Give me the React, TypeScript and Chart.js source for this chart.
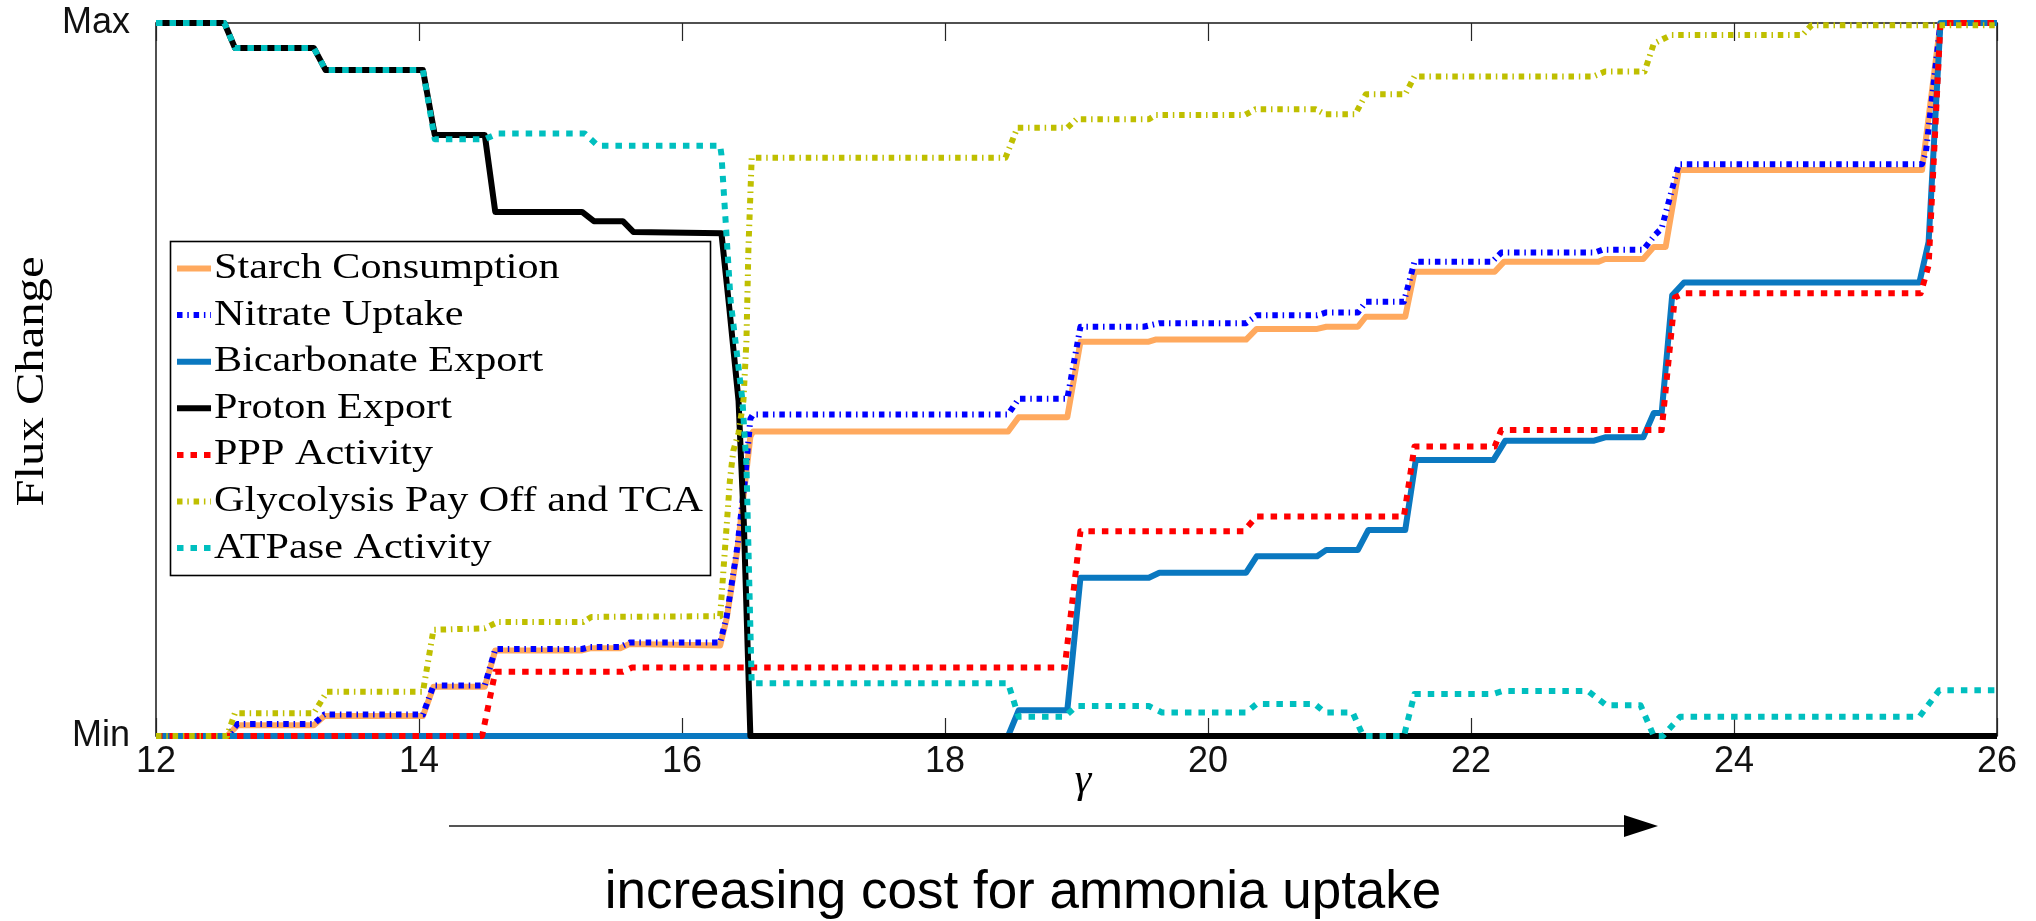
import { useEffect, useRef } from 'react';
import { Chart, registerables } from 'chart.js';

Chart.register(...registerables);

// ---- axis ticks ----
const xTicks = [12, 14, 16, 18, 20, 22, 24, 26];
const yTickLabels: Record<number, string> = { 0: 'Min', 1: 'Max' };

// ---- series (gamma breakpoints and normalised flux, 0 = Min, 1 = Max) ----
const starchGamma = [12, 12.54, 12.62, 13.2, 13.28, 14.03, 14.11, 14.5, 14.58, 15.24, 15.3, 15.53, 15.6, 16.29, 16.34, 16.42, 16.48, 16.52, 16.54, 18.48, 18.56, 18.93, 19.03, 19.55, 19.6, 20.29, 20.37, 20.83, 20.9, 21.14, 21.2, 21.5, 21.57, 22.18, 22.25, 22.97, 23.02, 23.31, 23.39, 23.48, 23.58, 25.43, 25.57, 26];
const starchFlux = [0, 0, 0.015, 0.015, 0.028, 0.028, 0.069, 0.069, 0.12, 0.12, 0.123, 0.123, 0.129, 0.127, 0.165, 0.26, 0.355, 0.42, 0.427, 0.427, 0.447, 0.447, 0.553, 0.553, 0.556, 0.556, 0.571, 0.571, 0.574, 0.574, 0.588, 0.588, 0.651, 0.651, 0.665, 0.665, 0.669, 0.669, 0.686, 0.686, 0.794, 0.794, 1, 1];

const nitrateGamma = [12, 12.54, 12.62, 13.2, 13.28, 14.03, 14.11, 14.5, 14.58, 15.24, 15.3, 15.53, 15.6, 16.29, 16.34, 16.42, 16.48, 16.52, 16.54, 18.48, 18.56, 18.93, 19.03, 19.51, 19.63, 20.29, 20.37, 20.83, 20.9, 21.14, 21.2, 21.49, 21.57, 22.16, 22.23, 22.94, 23.0, 23.31, 23.4, 23.45, 23.58, 25.43, 25.46, 25.57, 26];
const nitrateFlux = [0, 0, 0.017, 0.017, 0.03, 0.03, 0.071, 0.071, 0.122, 0.122, 0.125, 0.125, 0.131, 0.131, 0.168, 0.264, 0.361, 0.445, 0.451, 0.451, 0.473, 0.473, 0.574, 0.574, 0.579, 0.579, 0.59, 0.59, 0.594, 0.594, 0.609, 0.609, 0.665, 0.665, 0.678, 0.678, 0.682, 0.682, 0.703, 0.712, 0.802, 0.802, 0.82, 1, 1];

const bicarbonateGamma = [12, 18.48, 18.56, 18.93, 19.03, 19.55, 19.63, 20.29, 20.37, 20.83, 20.9, 21.14, 21.22, 21.5, 21.58, 22.17, 22.26, 22.93, 23.02, 23.31, 23.39, 23.45, 23.53, 23.62, 25.41, 25.48, 25.57, 26];
const bicarbonateFlux = [0, 0, 0.036, 0.036, 0.222, 0.222, 0.229, 0.229, 0.252, 0.252, 0.261, 0.261, 0.289, 0.289, 0.387, 0.387, 0.414, 0.414, 0.419, 0.419, 0.453, 0.453, 0.618, 0.636, 0.636, 0.693, 1, 1];

const protonGamma = [12, 12.52, 12.6, 13.2, 13.29, 14.03, 14.12, 14.5, 14.58, 15.24, 15.33, 15.55, 15.63, 16.3, 16.36, 16.43, 16.47, 16.52, 26];
const protonFlux = [1, 1, 0.965, 0.965, 0.934, 0.934, 0.843, 0.843, 0.735, 0.735, 0.722, 0.722, 0.707, 0.705, 0.6, 0.47, 0.3, 0, 0];

const pppGamma = [12, 14.48, 14.58, 15.55, 15.62, 18.91, 19.03, 20.27, 20.37, 21.49, 21.57, 22.18, 22.23, 23.45, 23.55, 23.62, 25.42, 25.48, 25.57, 26];
const pppFlux = [0, 0, 0.09, 0.09, 0.096, 0.096, 0.287, 0.287, 0.308, 0.308, 0.406, 0.406, 0.429, 0.429, 0.615, 0.621, 0.621, 0.66, 1, 1];

const glycolysisGamma = [12, 12.54, 12.6, 13.2, 13.3, 14.03, 14.11, 14.5, 14.6, 15.25, 15.31, 16.29, 16.365, 16.39, 16.43, 16.467, 16.49, 16.505, 16.53, 18.46, 18.55, 18.93, 19.0, 19.55, 19.6, 20.28, 20.36, 20.82, 20.89, 21.12, 21.2, 21.5, 21.57, 22.93, 23.02, 23.32, 23.39, 23.52, 24.52, 24.59, 26];
const glycolysisFlux = [0, 0, 0.032, 0.032, 0.062, 0.062, 0.149, 0.151, 0.16, 0.16, 0.167, 0.168, 0.36, 0.4, 0.425, 0.47, 0.554, 0.683, 0.811, 0.811, 0.853, 0.853, 0.865, 0.865, 0.871, 0.871, 0.879, 0.879, 0.872, 0.872, 0.9, 0.9, 0.925, 0.925, 0.932, 0.932, 0.971, 0.983, 0.983, 0.997, 0.997];

const atpaseGamma = [12, 12.52, 12.6, 13.2, 13.29, 14.03, 14.12, 14.5, 14.6, 15.26, 15.36, 16.29, 16.3, 16.37, 16.46, 16.49, 16.53, 18.48, 18.56, 18.91, 19.0, 19.55, 19.65, 20.29, 20.37, 20.81, 20.89, 21.1, 21.18, 21.49, 21.57, 22.17, 22.24, 22.89, 23.03, 23.29, 23.39, 23.46, 23.59, 25.41, 25.56, 26];
const atpaseFlux = [1, 1, 0.965, 0.965, 0.934, 0.934, 0.837, 0.837, 0.845, 0.845, 0.828, 0.828, 0.815, 0.61, 0.47, 0.38, 0.074, 0.074, 0.027, 0.027, 0.042, 0.042, 0.033, 0.033, 0.045, 0.045, 0.033, 0.033, 0, 0, 0.059, 0.059, 0.063, 0.063, 0.043, 0.043, 0, 0, 0.027, 0.027, 0.064, 0.064];

const seriesNames = [
  'Starch Consumption',
  'Nitrate Uptake',
  'Bicarbonate Export',
  'Proton Export',
  'PPP Activity',
  'Glycolysis Pay Off and TCA',
  'ATPase Activity',
];

const DOTTED = [6.5, 7];
const DASH_DOT = [5.5, 4.8, 1.5, 4.8];

const seriesStyles = [
  { color: '#ffa95e', dash: [] as number[] },
  { color: '#0000ff', dash: DASH_DOT },
  { color: '#0a78c0', dash: [] as number[] },
  { color: '#000000', dash: [] as number[] },
  { color: '#ff0000', dash: DOTTED },
  { color: '#bfbf00', dash: DASH_DOT },
  { color: '#00bfbf', dash: DOTTED },
];

const seriesData = [
  [starchGamma, starchFlux],
  [nitrateGamma, nitrateFlux],
  [bicarbonateGamma, bicarbonateFlux],
  [protonGamma, protonFlux],
  [pppGamma, pppFlux],
  [glycolysisGamma, glycolysisFlux],
  [atpaseGamma, atpaseFlux],
];

const LINE_W = 6;

const toPoints = (g: number[], f: number[]) => g.map((x, i) => ({ x, y: f[i] }));

// Box, inward ticks, legend and annotation text
const decorations = {
  id: 'decorations',
  beforeDatasetsDraw(chart: any) {
    const { ctx, chartArea: a, scales } = chart;
    ctx.save();
    ctx.strokeStyle = '#262626';
    ctx.lineWidth = 1.2;
    ctx.beginPath();
    xTicks.forEach((t) => {
      const x = Math.round(scales.x.getPixelForValue(t)) + 0.5;
      ctx.moveTo(x, a.bottom);
      ctx.lineTo(x, a.bottom - 18);
      ctx.moveTo(x, a.top);
      ctx.lineTo(x, a.top + 18);
    });
    ctx.stroke();
    ctx.lineWidth = 1.6;
    ctx.strokeRect(a.left, a.top, a.right - a.left, a.bottom - a.top);
    ctx.restore();
  },
  afterDatasetsDraw(chart: any) {
    const { ctx } = chart;
    ctx.save();
    // legend
    const bx = 170, by = 241, bw = 540, bh = 334;
    ctx.fillStyle = '#ffffff';
    ctx.fillRect(bx, by, bw, bh);
    ctx.strokeStyle = '#000000';
    ctx.lineWidth = 1.6;
    ctx.strokeRect(bx + 0.5, by + 0.5, bw, bh);
    ctx.font = '36px "Liberation Serif"';
    const stretch = 489 / ctx.measureText(seriesNames[5]).width;
    seriesNames.forEach((name, i) => {
      const base = 278 + i * 46.6;
      const st = seriesStyles[i];
      ctx.save();
      ctx.strokeStyle = st.color;
      ctx.lineWidth = LINE_W;
      ctx.lineCap = 'butt';
      ctx.setLineDash(st.dash);
      ctx.beginPath();
      ctx.moveTo(177, base - 9.5);
      ctx.lineTo(211, base - 9.5);
      ctx.stroke();
      ctx.restore();
      ctx.save();
      ctx.fillStyle = '#000000';
      ctx.textAlign = 'left';
      ctx.textBaseline = 'alphabetic';
      ctx.translate(214, base);
      ctx.scale(stretch, 1);
      ctx.fillText(name, 0, 0);
      ctx.restore();
    });
    ctx.restore();
  },
  afterDraw(chart: any) {
    const { ctx, chartArea: a } = chart;
    ctx.save();
    // y-axis title
    ctx.font = '41px "Liberation Serif"';
    const title = 'Flux Change';
    const tStretch = 250 / ctx.measureText(title).width;
    ctx.fillStyle = '#000000';
    ctx.translate(42.5, (a.top + a.bottom) / 2 + 2);
    ctx.rotate(-Math.PI / 2);
    ctx.scale(tStretch, 1);
    ctx.textAlign = 'center';
    ctx.textBaseline = 'alphabetic';
    ctx.fillText(title, 0, 0);
    ctx.restore();

    ctx.save();
    // x-axis symbol
    ctx.fillStyle = '#000000';
    ctx.font = 'italic 42px "Liberation Serif"';
    ctx.textAlign = 'center';
    ctx.textBaseline = 'alphabetic';
    ctx.fillText('γ', 1083, 792);

    // arrow
    ctx.strokeStyle = '#555555';
    ctx.lineWidth = 2;
    ctx.beginPath();
    ctx.moveTo(449, 826);
    ctx.lineTo(1628, 826);
    ctx.stroke();
    ctx.fillStyle = '#000000';
    ctx.beginPath();
    ctx.moveTo(1624, 815);
    ctx.lineTo(1658, 826);
    ctx.lineTo(1624, 837);
    ctx.closePath();
    ctx.fill();

    // caption under the arrow
    ctx.font = '53px "Liberation Sans"';
    ctx.fillText('increasing cost for ammonia uptake', 1023, 908);
    ctx.restore();
  },
};

export default function App() {
  const canvasRef = useRef<HTMLCanvasElement | null>(null);

  useEffect(() => {
    const canvas = canvasRef.current;
    if (!canvas) return;
    const datasets = seriesData.map(([g, f], i) => ({
      label: seriesNames[i],
      data: toPoints(g, f),
      borderColor: seriesStyles[i].color,
      backgroundColor: seriesStyles[i].color,
      borderWidth: LINE_W,
      borderDash: seriesStyles[i].dash,
      borderCapStyle: 'butt' as const,
      borderJoinStyle: 'round' as const,
      pointRadius: 0,
      tension: 0,
      fill: false,
      clip: false as const,
      order: seriesNames.length - 1 - i,
    }));

    const chart = new Chart(canvas, {
      type: 'line',
      data: { datasets },
      options: {
        animation: false,
        responsive: false,
        maintainAspectRatio: false,
        devicePixelRatio: 1,
        layout: { padding: { left: 0, right: 39, top: 23, bottom: 0 } },
        plugins: { legend: { display: false }, tooltip: { enabled: false } },
        scales: {
          x: {
            type: 'linear',
            min: 12,
            max: 26,
            grid: { display: false, drawTicks: false },
            border: { display: false },
            afterBuildTicks: (scale: any) => {
              scale.ticks = xTicks.map((v) => ({ value: v }));
            },
            afterFit: (scale: any) => {
              scale.height = 185;
              scale.paddingLeft = 0;
              scale.paddingRight = 0;
              scale.paddingTop = 0;
              scale.paddingBottom = 0;
            },
            ticks: {
              padding: 4,
              color: '#111111',
              font: { family: '"Liberation Sans", Arial, sans-serif', size: 36 },
              maxRotation: 0,
              autoSkip: false,
              callback: (v: any) => String(v),
            },
          },
          y: {
            type: 'linear',
            min: 0,
            max: 1,
            grid: { display: false, drawTicks: false },
            border: { display: false },
            afterBuildTicks: (scale: any) => {
              scale.ticks = [{ value: 0 }, { value: 1 }];
            },
            afterFit: (scale: any) => {
              scale.width = 156;
              scale.paddingLeft = 0;
              scale.paddingRight = 0;
              scale.paddingTop = 0;
              scale.paddingBottom = 0;
            },
            ticks: {
              padding: 26,
              color: '#111111',
              font: { family: '"Liberation Sans", Arial, sans-serif', size: 36 },
              callback: (v: any) => yTickLabels[Number(v)] ?? '',
            },
          },
        },
      },
      plugins: [decorations],
    });
    return () => chart.destroy();
  }, []);

  return (
    <div style={{ position: 'fixed', left: 0, top: 0, width: 2036, height: 921, background: '#ffffff' }}>
      <canvas ref={canvasRef} width={2036} height={921} style={{ display: 'block', width: 2036, height: 921 }} />
    </div>
  );
}
